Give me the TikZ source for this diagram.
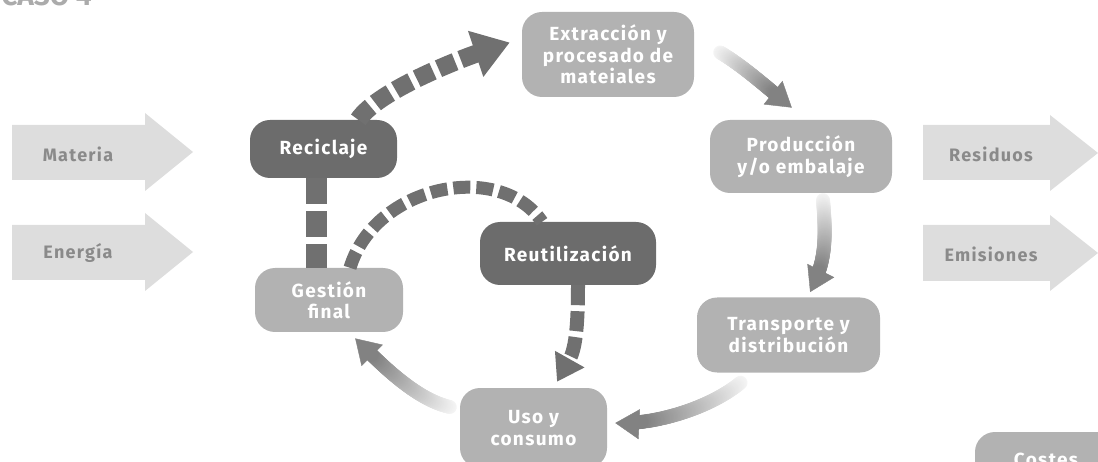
\documentclass[tikz,border=0pt]{standalone}
\usepackage{fontspec}
\setmainfont{Fira Sans}
\newfontfamily\lblfont[LetterSpace=7]{Fira Sans}
\usetikzlibrary{arrows.meta,decorations.markings}
\definecolor{boxlight}{HTML}{B2B2B2}
\definecolor{boxdark}{HTML}{6C6C6C}
\definecolor{dashgray}{HTML}{707070}
\definecolor{blockfill}{HTML}{DDDDDD}
\definecolor{blocktext}{HTML}{8A8A8A}
\definecolor{fadedark}{HTML}{828282}
\definecolor{fadelight}{HTML}{F6F6F6}
\definecolor{titlegray}{HTML}{ABABAB}
\tikzset{
  boxbase/.style={rounded corners=20pt, inner sep=0pt, align=center, text=white,
    font=\lblfont\bfseries\fontsize{19}{21.5}\selectfont},
  lightbox/.style={boxbase, fill=boxlight},
  darkbox/.style={boxbase, fill=boxdark},
  blockarrow/.style={fill=blockfill},
  blocklabel/.style={text=blocktext, inner sep=0pt, font=\lblfont\bfseries\fontsize{18}{21}\selectfont},
  dashbig/.style={draw=dashgray, line width=18pt, dash pattern=on 18pt off 6pt,
    -{Triangle[width=46pt,length=36pt]}},
  dashvert/.style={draw=dashgray, line width=21pt, dash pattern=on 26pt off 7pt},
  dasharc/.style={draw=dashgray, line width=13pt, dash pattern=on 17pt off 6pt},
  dashsmall/.style={draw=dashgray, line width=14pt, dash pattern=on 20pt off 6pt,
    -{Triangle[width=32pt,length=26pt]}},
  fadearrow/.style={
    decoration={markings,
      mark=between positions 0 and #1 step 0.01 with {
        \pgfmathsetmacro\fadepct{min(100,\pgfkeysvalueof{/pgf/decoration/mark info/sequence number}/#1)}
        \fill[fadedark!\fadepct!fadelight] (0,0) circle (7pt);
      },
      mark=at position 0.998 with {\arrow[fadedark]{Triangle[width=30pt,length=24pt]}}
    },
    postaction={decorate}
  }
}
\begin{document}
\begin{tikzpicture}[x=1pt,y=-1pt]
\useasboundingbox (0,0) rectangle (1098,462);
% title fragment
\node[anchor=base east, inner sep=0pt, text=titlegray, font=\bfseries\fontsize{28}{28}\selectfont] (title) at (92,6) {CASO 4};
% block arrows
\fill[blockarrow] (12,125) -- (145,125) -- (145,113) -- (193,152) -- (145,191) -- (145,180) -- (12,180) -- cycle;
\fill[blockarrow] (12,225) -- (145,225) -- (145,213) -- (193,252) -- (145,291) -- (145,280) -- (12,280) -- cycle;
\fill[blockarrow] (923,125) -- (1050,125) -- (1050,115) -- (1098,153) -- (1050,191) -- (1050,180) -- (923,180) -- cycle;
\fill[blockarrow] (923,225) -- (1050,225) -- (1050,215) -- (1098,253) -- (1050,291) -- (1050,281) -- (923,281) -- cycle;
\node[blocklabel] (materia) at (78,154) {Materia};
\node[blocklabel] (energia) at (78,253) {Energía};
\node[blocklabel] (residuos) at (991,154) {Residuos};
\node[blocklabel] (emisiones) at (991,254) {Emisiones};
% boxes
\node[lightbox, minimum width=172pt, minimum height=85pt] (ext) at (608,54.5) {Extracción y\\procesado de\\mateiales};
\node[lightbox, minimum width=182pt, minimum height=73pt] (prod) at (801,156.5) {Producción\\y/o embalaje};
\node[lightbox, minimum width=183pt, minimum height=75pt] (trans) at (788.5,335) {Transporte y\\distribución};
\node[lightbox, minimum width=147pt, minimum height=80pt] (uso) at (533.5,428) {Uso y\\consumo};
\node[lightbox, minimum width=148pt, minimum height=64pt] (gest) at (329,300) {Gestión\\final};
\node[darkbox, minimum width=147pt, minimum height=58pt] (recic) at (323.5,149) {Reciclaje};
\node[darkbox, minimum width=176pt, minimum height=63pt] (reut) at (568,253.5) {Reutilización};
\node[lightbox, minimum width=142pt, minimum height=56pt] (costes) at (1046,460) {Costes};
% dashed connectors
\draw[dashbig] (recic.40) .. controls +(20,-30) and +(-45,15) .. ([shift={(-12,-12)}]ext.west);
\draw[dashvert] ([xshift=-7.5]recic.south) -- ([xshift=-13]gest.north);
\draw[dasharc] ([xshift=21]gest.north) .. controls +(25,-83) and +(-42,-62) .. ([xshift=-26]reut.north);
\draw[dashsmall] ([xshift=10]reut.south) .. controls +(0,45) and +(18,-32) .. ([shift={(23.5,-6)}]uso.north);
% fading connectors
\path[fadearrow=0.78] ([shift={(26,-2)}]ext.east) .. controls +(25,15) and +(-25,-20) .. ([shift={(-9,-12)}]prod.north);
\path[fadearrow=0.78] ([shift={(22,7)}]prod.south) .. controls +(4,45) and +(14,-28) .. ([shift={(21.5,-5)}]trans.north);
\path[fadearrow=0.82] ([shift={(-48,10)}]trans.south) .. controls +(-30,25) and +(40,2) .. ([shift={(8,-5)}]uso.east);
\path[fadearrow=0.82] ([shift={(-10,-21)}]uso.west) .. controls +(-35,-8) and +(25,25) .. ([shift={(26,6)}]gest.south);
\end{tikzpicture}
\end{document}
